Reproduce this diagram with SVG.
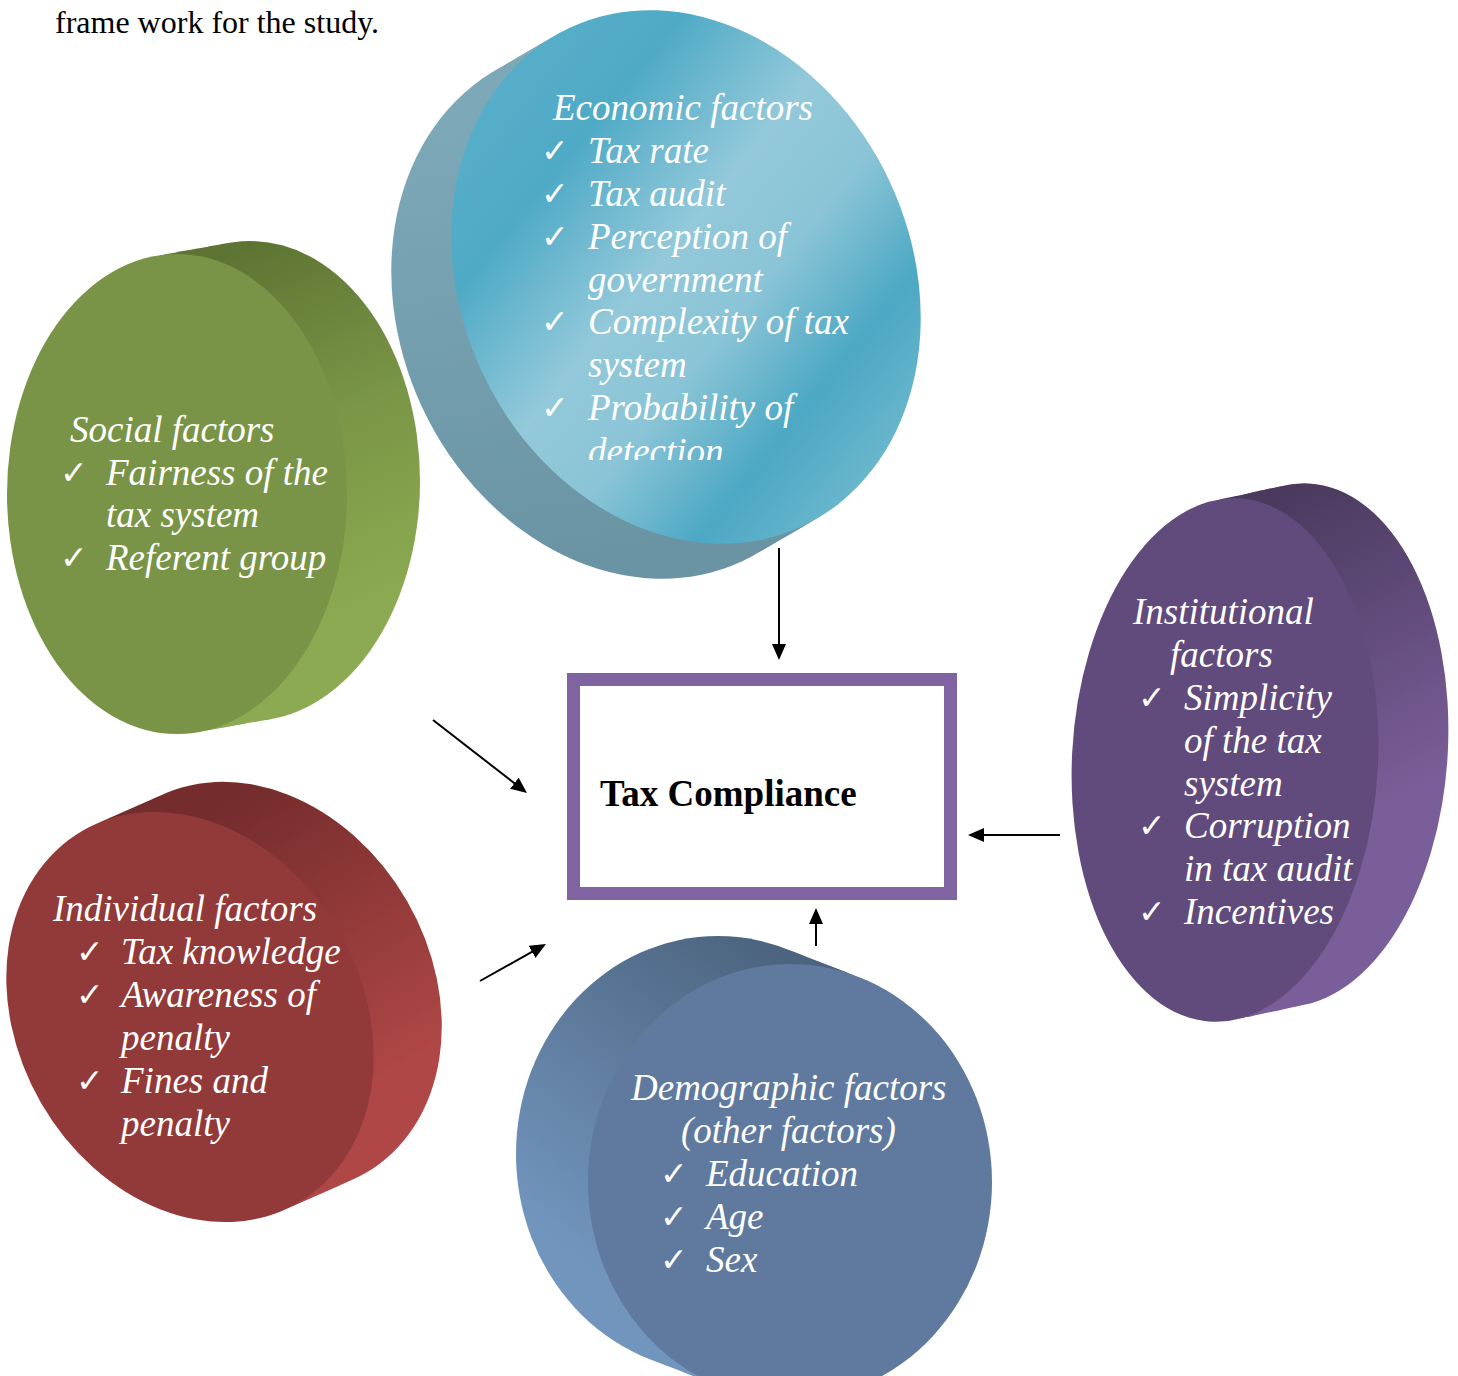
<svg xmlns="http://www.w3.org/2000/svg" xmlns:xlink="http://www.w3.org/1999/xlink" width="1458" height="1376" viewBox="0 0 1458 1376">
<defs>
<style>
.t{font-family:"Liberation Serif","Times New Roman",serif;font-style:italic;font-size:37px;fill:#ffffff;}
.ck{font-family:"DejaVu Sans",sans-serif;font-weight:bold;font-size:33px;fill:#ffffff;}
.cap{font-family:"Liberation Serif","Times New Roman",serif;font-size:32px;fill:#000000;}
.title{font-family:"Liberation Serif","Times New Roman",serif;font-weight:bold;font-size:37px;fill:#000000;}
.conn line{stroke:#000000;stroke-width:2;fill:none;marker-end:url(#ah);}
</style>
<marker id="ah" markerUnits="userSpaceOnUse" viewBox="0 0 16 14" markerWidth="16" markerHeight="14" refX="8" refY="7" orient="auto">
<path d="M0,0 L16,7 L0,14 Z" fill="#000000"/>
</marker>
<linearGradient id="gEcoFace" gradientUnits="userSpaceOnUse" x1="-216" y1="-177" x2="214" y2="173" gradientTransform="rotate(-65)">
<stop offset="0" stop-color="#58AEC8"/>
<stop offset="0.2" stop-color="#4FAAC6"/>
<stop offset="0.45" stop-color="#93C9DA"/>
<stop offset="0.62" stop-color="#8AC4D6"/>
<stop offset="0.82" stop-color="#4CA8C4"/>
<stop offset="1" stop-color="#6CB7CD"/>
</linearGradient>
<linearGradient id="gEcoSide" gradientUnits="userSpaceOnUse" x1="-280" y1="-150" x2="-200" y2="300" gradientTransform="rotate(-65)">
<stop offset="0" stop-color="#7DA8B7"/>
<stop offset="1" stop-color="#6A94A4"/>
</linearGradient>
<linearGradient id="gSocSide" gradientUnits="userSpaceOnUse" x1="73" y1="-249" x2="223" y2="106">
<stop offset="0" stop-color="#5E7434"/>
<stop offset="0.5" stop-color="#7A9646"/>
<stop offset="1" stop-color="#8CAA52"/>
</linearGradient>
<linearGradient id="gIndSide" gradientUnits="userSpaceOnUse" x1="70" y1="-237" x2="240" y2="33" gradientTransform="rotate(-60)">
<stop offset="0" stop-color="#742C2C"/>
<stop offset="1" stop-color="#AE4745"/>
</linearGradient>
<linearGradient id="gDemSide" gradientUnits="userSpaceOnUse" x1="-30" y1="-237" x2="-250" y2="48">
<stop offset="0" stop-color="#4C647F"/>
<stop offset="1" stop-color="#7295BE"/>
</linearGradient>
<linearGradient id="gInsSide" gradientUnits="userSpaceOnUse" x1="65" y1="-270" x2="215" y2="20" gradientTransform="rotate(-3)">
<stop offset="0" stop-color="#4A3A5E"/>
<stop offset="1" stop-color="#7A5E99"/>
</linearGradient>
<clipPath id="ecoClip"><rect x="480" y="0" width="460" height="460"/></clipPath>
</defs>

<rect x="0" y="0" width="1458" height="1376" fill="#ffffff"/>

<text class="cap" x="55" y="33">frame work for the study.</text>

<g id="economic">
<g transform="translate(686,277) rotate(65)">
<g fill="url(#gEcoSide)">
<ellipse cx="1.3" cy="13.8" rx="275" ry="225"/>
<ellipse cx="2.6" cy="27.7" rx="275" ry="225"/>
<ellipse cx="3.8" cy="41.5" rx="275" ry="225"/>
<ellipse cx="5.1" cy="55.4" rx="275" ry="225"/>
<ellipse cx="6.4" cy="69.2" rx="275" ry="225"/>
</g>
<ellipse cx="0" cy="0" rx="275" ry="225" fill="url(#gEcoFace)"/>
</g>
<g clip-path="url(#ecoClip)">
<text class="t" x="553" y="120">Economic factors</text>
<text class="ck" x="541" y="162">✓</text>
<text class="t" x="588" y="163">Tax rate</text>
<text class="ck" x="541" y="205">✓</text>
<text class="t" x="588" y="206">Tax audit</text>
<text class="ck" x="541" y="248">✓</text>
<text class="t" x="588" y="249">Perception of</text>
<text class="t" x="588" y="292">government</text>
<text class="ck" x="541" y="333">✓</text>
<text class="t" x="588" y="334">Complexity of tax</text>
<text class="t" x="588" y="377">system</text>
<text class="ck" x="541" y="419">✓</text>
<text class="t" x="588" y="420">Probability of</text>
<text class="t" x="588" y="464">detection</text>
</g>
</g>

<g id="social">
<g transform="translate(177,494)">
<g fill="url(#gSocSide)">
<ellipse cx="14.6" cy="-2.6" rx="170" ry="240"/>
<ellipse cx="29.2" cy="-5.2" rx="170" ry="240"/>
<ellipse cx="43.8" cy="-7.8" rx="170" ry="240"/>
<ellipse cx="58.4" cy="-10.4" rx="170" ry="240"/>
<ellipse cx="73" cy="-13" rx="170" ry="240"/>
</g>
<ellipse cx="0" cy="0" rx="170" ry="240" fill="#7A9447"/>
</g>
<text class="t" x="70" y="442">Social factors</text>
<text class="ck" x="60" y="484">✓</text>
<text class="t" x="106" y="485">Fairness of the</text>
<text class="t" x="106" y="527">tax system</text>
<text class="ck" x="60" y="569">✓</text>
<text class="t" x="106" y="570">Referent group</text>
</g>

<g id="individual">
<g transform="translate(190,1017) rotate(60)">
<g fill="url(#gIndSide)">
<ellipse cx="1.6" cy="-14.8" rx="215" ry="172"/>
<ellipse cx="3.2" cy="-29.6" rx="215" ry="172"/>
<ellipse cx="4.8" cy="-44.4" rx="215" ry="172"/>
<ellipse cx="6.4" cy="-59.2" rx="215" ry="172"/>
<ellipse cx="8" cy="-74" rx="215" ry="172"/>
</g>
<ellipse cx="0" cy="0" rx="215" ry="172" fill="#923A3A"/>
</g>
<text class="t" x="53" y="921">Individual factors</text>
<text class="ck" x="76" y="963">✓</text>
<text class="t" x="121" y="964">Tax knowledge</text>
<text class="ck" x="76" y="1006">✓</text>
<text class="t" x="121" y="1007">Awareness of</text>
<text class="t" x="121" y="1050">penalty</text>
<text class="ck" x="76" y="1092">✓</text>
<text class="t" x="121" y="1093">Fines and</text>
<text class="t" x="121" y="1136">penalty</text>
</g>

<g id="demographic">
<g transform="translate(790,1182)">
<g fill="url(#gDemSide)">
<ellipse cx="-14.4" cy="-5.6" rx="202" ry="218"/>
<ellipse cx="-28.8" cy="-11.2" rx="202" ry="218"/>
<ellipse cx="-43.2" cy="-16.8" rx="202" ry="218"/>
<ellipse cx="-57.6" cy="-22.4" rx="202" ry="218"/>
<ellipse cx="-72" cy="-28" rx="202" ry="218"/>
</g>
<ellipse cx="0" cy="0" rx="202" ry="218" fill="#5F7A9E"/>
</g>
<text class="t" x="631" y="1100">Demographic factors</text>
<text class="t" x="681" y="1143">(other factors)</text>
<text class="ck" x="660" y="1185">✓</text>
<text class="t" x="706" y="1186">Education</text>
<text class="ck" x="660" y="1228">✓</text>
<text class="t" x="706" y="1229">Age</text>
<text class="ck" x="660" y="1271">✓</text>
<text class="t" x="706" y="1272">Sex</text>
</g>

<g id="institutional">
<g transform="translate(1225,760) rotate(3)">
<g fill="url(#gInsSide)">
<ellipse cx="13.8" cy="-3.7" rx="153" ry="262"/>
<ellipse cx="27.6" cy="-7.4" rx="153" ry="262"/>
<ellipse cx="41.5" cy="-11.2" rx="153" ry="262"/>
<ellipse cx="55.3" cy="-14.9" rx="153" ry="262"/>
<ellipse cx="69.1" cy="-18.6" rx="153" ry="262"/>
</g>
<ellipse cx="0" cy="0" rx="153" ry="262" fill="#614A7C"/>
</g>
<text class="t" x="1133" y="624">Institutional</text>
<text class="t" x="1170" y="667">factors</text>
<text class="ck" x="1138" y="709">✓</text>
<text class="t" x="1184" y="710">Simplicity</text>
<text class="t" x="1184" y="753">of the tax</text>
<text class="t" x="1184" y="796">system</text>
<text class="ck" x="1138" y="837">✓</text>
<text class="t" x="1184" y="838">Corruption</text>
<text class="t" x="1184" y="881">in tax audit</text>
<text class="ck" x="1138" y="923">✓</text>
<text class="t" x="1184" y="924">Incentives</text>
</g>

<g id="tax-compliance">
<rect x="573.5" y="679.5" width="377" height="214" fill="#ffffff" stroke="#8064A2" stroke-width="13"/>
<text class="title" x="600" y="806">Tax Compliance</text>
</g>

<g id="connectors" class="conn">
<line x1="779" y1="548" x2="779" y2="652"/>
<line x1="433" y1="720" x2="520.7" y2="788.1"/>
<line x1="480" y1="981" x2="539" y2="947.9"/>
<line x1="816" y1="946" x2="816" y2="916"/>
<line x1="1060" y1="835" x2="976" y2="835"/>
</g>
</svg>
